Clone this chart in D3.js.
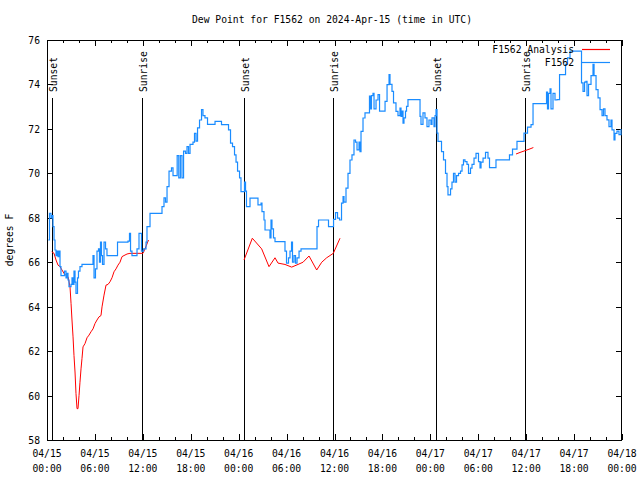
<!DOCTYPE html>
<html><head><meta charset="utf-8">
<script src="https://cdn.jsdelivr.net/npm/d3@7"></script>
<style>body{margin:0;background:#fff}svg text{font-family:"DejaVu Sans Mono","Liberation Mono",monospace;font-size:9.7px;fill:#000}</style>
</head><body><svg id="c" width="640" height="480"></svg>
<script>
// hours since 2024-04-15 00:00 UTC
const stationTimes = [0.16,0.31,0.50,0.63,0.75,0.88,1.00,1.13,1.25,1.38,1.50,1.63,1.75,2.00,2.19,2.38,2.50,2.63,2.75,3.01,3.13,3.26,3.38,3.51,3.63,3.82,3.94,4.13,4.38,4.88,5.51,5.76,5.89,6.07,6.26,6.45,6.57,6.70,6.82,6.95,7.14,7.33,7.51,8.64,8.83,9.27,10.14,10.33,10.46,10.64,11.02,11.27,11.52,11.71,11.83,12.08,12.40,12.52,12.90,14.40,14.65,14.84,15.03,15.28,15.59,15.78,16.15,16.30,16.50,16.70,16.90,17.10,17.34,17.53,17.72,17.91,18.28,18.47,18.66,18.85,19.10,19.35,19.53,19.78,20.10,20.79,21.04,21.60,21.85,22.54,22.73,22.98,23.23,23.48,23.67,23.86,24.11,24.29,24.61,24.73,24.86,24.98,25.42,26.23,26.42,26.80,26.92,27.17,27.30,27.67,27.92,28.05,28.17,28.36,28.55,29.74,29.80,29.99,30.24,30.43,30.62,30.74,30.93,31.12,31.31,31.56,31.81,33.81,34.00,34.87,35.25,35.81,35.88,36.13,36.38,36.63,36.88,37.07,37.19,37.44,37.69,37.94,38.19,38.44,38.63,38.82,39.07,39.19,39.32,39.57,39.82,40.26,40.38,40.51,40.63,40.82,40.95,41.20,41.45,41.64,42.07,42.33,42.58,42.83,42.95,43.20,43.39,43.70,43.95,44.20,44.33,44.45,44.58,44.70,44.89,45.02,45.20,46.71,46.83,47.08,47.33,47.58,47.83,48.08,48.21,48.46,48.59,48.71,48.84,48.96,49.40,49.65,49.90,50.09,50.21,50.53,50.71,50.90,51.09,51.28,51.53,51.78,51.97,52.15,52.34,52.59,52.78,53.03,53.22,53.47,53.72,54.03,54.22,54.35,54.60,54.91,55.22,55.41,56.04,56.22,57.73,57.91,58.29,58.85,59.61,59.73,60.17,60.61,60.86,62.42,62.55,62.67,62.80,62.99,63.11,63.36,63.61,63.86,64.18,64.43,64.93,65.18,65.49,66.74,66.93,67.12,67.31,67.49,67.62,67.81,68.12,68.37,68.50,68.75,69.00,69.25,69.50,69.68,69.87,70.12,70.37,70.62,70.75,71.00,71.12,71.37,71.62,71.87];
const stationValues = [67.0,68.2,68.0,68.1,67.6,67.0,66.55,66.3,66.5,66.25,66.5,65.8,65.4,65.4,65.6,65.3,65.5,65.2,64.9,65.0,65.3,65.0,65.6,65.1,64.6,65.3,65.6,65.8,65.9,65.9,65.9,66.3,65.3,65.7,66.5,66.6,66.0,66.9,66.3,65.9,66.9,66.6,66.3,66.3,66.9,66.9,66.95,67.3,66.5,66.3,66.3,66.6,67.3,67.3,66.5,66.6,66.9,67.6,68.2,68.5,68.9,68.7,69.4,70.1,70.25,69.9,69.9,70.8,69.8,70.8,69.8,71.0,70.9,71.2,70.9,71.3,71.4,71.8,71.45,72.05,72.4,72.87,72.6,72.5,72.2,72.2,72.34,72.34,72.19,72.19,71.96,71.36,71.2,70.83,70.5,70.1,69.8,69.18,69.18,69.6,69.2,68.5,68.88,68.88,68.58,68.66,68.28,67.9,67.45,67.45,67.1,67.9,67.5,67.1,66.93,66.93,66.5,65.96,66.2,66.5,66.9,66.0,66.3,65.96,66.2,66.5,66.6,67.6,67.9,67.9,67.6,67.6,67.93,68.23,67.98,67.9,68.66,68.95,68.7,69.33,70.0,70.6,70.83,71.5,71.4,71.06,71.4,70.98,71.89,72.49,72.72,72.72,73.47,72.9,73.5,73.6,72.9,73.3,73.54,72.8,72.8,73.24,73.99,74.44,74.0,73.69,73.17,72.79,72.6,72.94,72.56,72.8,72.26,72.5,72.8,73.01,73.32,72.56,72.2,72.72,72.5,72.1,72.4,72.2,72.5,72.1,72.6,72.87,71.81,71.44,70.98,70.61,70.0,69.4,69.03,69.3,69.6,70.0,69.6,69.9,70.0,70.1,70.38,70.61,70.53,70.4,70.0,70.23,70.4,70.68,70.9,70.53,70.24,70.5,70.68,70.94,70.68,70.26,70.26,70.61,70.61,70.83,71.09,71.44,71.44,71.81,72.08,72.19,73.14,73.14,73.65,72.9,73.6,73.8,72.9,73.6,73.3,73.32,74.44,74.44,74.9,75.2,75.5,75.5,74.07,73.69,74.1,74.14,73.5,74.0,74.4,74.9,74.4,73.77,73.4,72.87,72.6,72.9,72.6,72.41,72.1,72.4,71.96,71.5,71.8,71.9,71.74,72.0];
// null marks a gap between analysis runs
const analysisTimes = [0.59,0.88,1.13,1.38,1.63,1.88,2.13,2.38,2.63,2.88,3.01,3.13,3.26,3.38,3.51,3.63,3.76,3.88,4.01,4.13,4.26,4.38,4.51,4.76,5.01,5.26,5.51,5.76,6.01,6.26,6.51,6.76,6.89,7.14,7.39,7.64,7.89,8.14,8.39,8.64,8.89,9.14,9.39,9.64,10.02,10.39,11.65,12.02,12.27,12.71,null,24.67,25.71,26.88,27.80,28.55,28.93,29.80,30.64,31.43,32.06,32.81,33.77,34.40,35.02,35.85,36.69,null,58.73,59.23,59.86,60.48,60.90];
const analysisValues = [66.47,66.4,66.1,65.87,65.8,65.65,65.5,65.4,65.35,64.9,64.15,63.4,62.64,61.8,61.06,60.09,59.41,59.41,60.0,60.6,61.2,61.66,62.19,62.34,62.6,62.72,62.87,63.0,63.24,63.4,63.54,63.6,63.99,64.52,64.97,65.0,65.12,65.3,65.57,65.7,65.87,66.0,66.25,66.3,66.37,66.4,66.4,66.4,66.6,67.0,null,66.1,67.08,66.6,65.8,66.2,65.96,65.9,65.78,65.9,66.0,66.28,65.65,66.0,66.2,66.4,67.08,null,70.87,70.94,71.02,71.1,71.16];
const sunTimes = [0.63,11.90,24.67,35.81,48.71,59.86];
const sunLabels = ["Sunset","Sunrise","Sunset","Sunrise","Sunset","Sunrise"];
const yTicks = [58,60,62,64,66,68,70,72,74,76];
const titleText = "Dew Point for F1562 on 2024-Apr-15 (time in UTC)";
const yLabel = "degrees F";
const legendLabels = ["F1562 Analysis","F1562"];

const t0 = Date.UTC(2024,3,15,0,0);
const toDate = h => new Date(t0 + h*3600e3);
const svg = d3.select("#c");
const L=47,R=622,T=40,B=440;
const x = d3.scaleUtc().domain([toDate(0),toDate(72)]).range([L,R]);
const y = d3.scaleLinear().domain([58,76]).range([B,T]);

svg.append("text").attr("x",332).attr("y",23).attr("text-anchor","middle").text(titleText);
svg.append("text").attr("transform","translate(13,240) rotate(-90)").attr("text-anchor","middle").text(yLabel);

const g = svg.append("g").attr("shape-rendering","crispEdges").attr("stroke","#000");
const majorX = d3.range(0,73,6).map(toDate);
const minorX = d3.range(0,73,2).filter(h=>h%6!==0).map(toDate);
majorX.forEach(d=>{const px=Math.round(x(d))+0.5;
  g.append("line").attr("x1",px).attr("x2",px).attr("y1",B).attr("y2",B-6);
  g.append("line").attr("x1",px).attr("x2",px).attr("y1",T).attr("y2",T+6);});
minorX.forEach(d=>{const px=Math.round(x(d))+0.5;
  g.append("line").attr("x1",px).attr("x2",px).attr("y1",B).attr("y2",B-3);
  g.append("line").attr("x1",px).attr("x2",px).attr("y1",T).attr("y2",T+3);});
yTicks.forEach(v=>{const py=Math.round(y(v))+0.5;
  g.append("line").attr("x1",L).attr("x2",L+6).attr("y1",py).attr("y2",py);
  g.append("line").attr("x1",R).attr("x2",R-6).attr("y1",py).attr("y2",py);
  svg.append("text").attr("x",40).attr("y",py).attr("dy","0.35em").attr("text-anchor","end").text(v);});
const fmtD=d3.utcFormat("%m/%d"), fmtH=d3.utcFormat("%H:%M");
majorX.forEach(d=>{const t=svg.append("text").attr("text-anchor","middle");
  t.append("tspan").attr("x",x(d)).attr("y",457).text(fmtD(d));
  t.append("tspan").attr("x",x(d)).attr("y",472).text(fmtH(d));});

// sun lines
sunTimes.forEach((h,i)=>{const px=Math.round(x(toDate(h)))+0.5;
  g.append("line").attr("x1",px).attr("x2",px).attr("y1",98).attr("y2",B);
  svg.append("text").attr("transform",`translate(${px+4},92) rotate(-90)`).attr("text-anchor","start").text(sunLabels[i]);});

const st = stationTimes.map((t,i)=>({t:toDate(t),v:stationValues[i]}));
const an = analysisTimes.map((t,i)=>({t:t==null?null:toDate(t),v:analysisValues[i]}));
svg.append("path").datum(an).attr("fill","none").attr("stroke","#ff0000").attr("stroke-width",1)
  .attr("d",d3.line().defined(d=>d.t!=null).x(d=>x(d.t)).y(d=>y(d.v)));
svg.append("path").datum(st).attr("fill","none").attr("stroke","#1a8cff").attr("stroke-width",1.2)
  .attr("d",d3.line().curve(d3.curveStepAfter).x(d=>x(d.t)).y(d=>y(d.v)));

// legend
const lg=[{c:"#ff0000",y:49.5},{c:"#1a8cff",y:62.5}];
lg.forEach((l,i)=>{svg.append("text").attr("x",574).attr("y",l.y).attr("dy","0.35em").attr("text-anchor","end").text(legendLabels[i]);
  svg.append("line").attr("x1",582).attr("x2",610).attr("y1",l.y).attr("y2",l.y).attr("stroke",l.c).attr("stroke-width",1.2);});

g.append("rect").attr("x",L+0.5).attr("y",T+0.5).attr("width",R-L-1).attr("height",B-T).attr("fill","none");
</script></body></html>
